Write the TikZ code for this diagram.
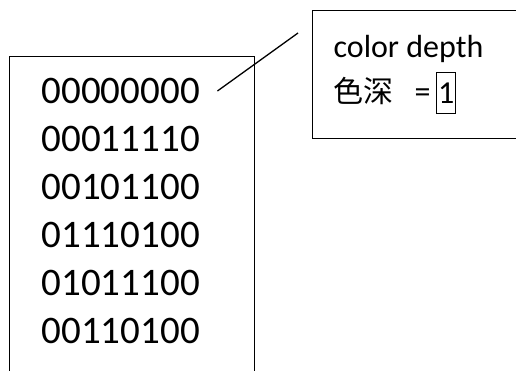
\documentclass[tikz,border=0pt]{standalone}
\usepackage{fontspec}
\setmainfont{Carlito}
\newfontfamily\cjk{Noto Sans CJK SC}
\usetikzlibrary{positioning}

\tikzset{
    bits/.style={anchor=base west, inner sep=0pt, font=\fontsize{39}{39}\selectfont},
    note/.style={anchor=base west, inner sep=0pt, font=\fontsize{32}{32}\selectfont}
}

\begin{document}
\begin{tikzpicture}[x=1pt, y=-1pt, line width=1.3pt]
    \clip (0,0) rectangle (516,370);

    % pixel block
    \node[draw, minimum width=245pt, minimum height=330pt, anchor=north west] (block) at (9,56) {};

    % rows of bits
    \foreach \bits [count=\i] in {00000000,00011110,00101100,01110100,01011100,00110100} {
        \node[bits] (row\i) at (41,{103+48*(\i-1)}) {\bits};
    }

    % callout
    \node[draw, minimum width=230pt, minimum height=128pt, anchor=north west] (callout) at (312,10) {};
    \node[note] (depth) at (333,57) {color depth};
    \node[note] (cjkdepth) at (333,102) {\cjk\fontsize{30}{30}\selectfont 色深};
    \node[note] (eq) at (414,102) {=};
    \node[note, draw, anchor=north west, minimum width=19pt, minimum height=41pt, inner sep=0pt] (one) at (436,72) {1};

    % leader line
    \coordinate (foot) at ([shift={(17,-12)}]row1.base east);
    \coordinate (tip) at (298,33);
    \draw (foot) -- (tip);
\end{tikzpicture}
\end{document}
